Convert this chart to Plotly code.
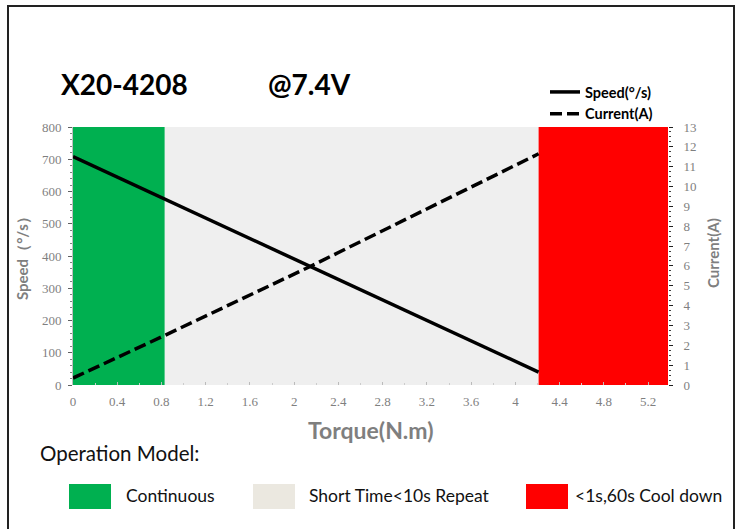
import plotly.graph_objects as go

# ---------------- data ----------------
torque = [0.0, 0.83, 2.14, 4.21]
speed = [708, 576, 367, 40]
current = [0.35, 2.5, 5.96, 11.65]

zone_names = ["Continuous", "Short Time<10s Repeat", "<1s,60s Cool down"]
zone_start = [0.0, 0.83, 4.21]
zone_end = [0.83, 4.21, 5.38]
zone_colors = ["#00b050", "#efefef", "#ff0000"]
legend_box_colors = ["#00b050", "#ebe8e0", "#ff0000"]

x_ticks = [0, 0.4, 0.8, 1.2, 1.6, 2, 2.4, 2.8, 3.2, 3.6, 4, 4.4, 4.8, 5.2]
x_tick_text = ["0", "0.4", "0.8", "1.2", "1.6", "2", "2.4", "2.8", "3.2", "3.6", "4", "4.4", "4.8", "5.2"]

model_name = "X20-4208"
voltage = "@7.4V"

# ---------------- layout geometry ----------------
W, H = 738, 529
L, R, T, B = 73, 70, 127, 144
PW, PH = W - L - R, H - T - B


def px(x):
    return (x - L) / PW


def py(y):
    return (H - B - y) / PH


GRAY = "#7f7f7f"
SANS = "Lato, 'Open Sans', sans-serif"
SERIF = "'Liberation Serif', serif"

fig = go.Figure()

fig.add_trace(go.Scatter(
    x=torque, y=speed, mode="lines", name="<b>Speed(°/s)</b>",
    line=dict(color="#000000", width=3.5), yaxis="y"))
fig.add_trace(go.Scatter(
    x=torque, y=current, mode="lines", name="<b>Current(A)</b>",
    line=dict(color="#000000", width=3.5, dash="12px,5px"), yaxis="y2"))

shapes = []
for s, e, c in zip(zone_start, zone_end, zone_colors):
    shapes.append(dict(type="rect", xref="x", yref="paper", x0=s, x1=e, y0=0, y1=1,
                       fillcolor=c, line=dict(width=0), layer="below"))

# outer frame
shapes.append(dict(type="rect", xref="paper", yref="paper",
                   x0=px(8), x1=px(734), y0=py(545), y1=py(6),
                   line=dict(color="#222222", width=2), fillcolor="rgba(0,0,0,0)"))


def note(text, x, y, size, color, xanchor="center", angle=0):
    return dict(text=text, x=px(x), y=py(y), xref="paper", yref="paper",
                xanchor=xanchor, yanchor="middle", showarrow=False, textangle=angle,
                font=dict(family=SANS, size=size, color=color))


annotations = [
    note("<b>" + model_name + "</b>", 124, 84, 28, "#000000"),
    note("<b>" + voltage + "</b>", 309, 84, 28, "#000000"),
    note("<b>Speed（°/s）</b>", 22, 255, 15, GRAY, angle=-90),
    note("<b>Current(A)</b>", 713, 253, 15, GRAY, angle=-90),
    note("<b>Torque(N.m)</b>", 371, 430, 23, GRAY),
    note("Operation Model:", 38, 453, 20.5, "#111111", xanchor="left"),
]

box_left = [69, 253, 526]
text_left = [124, 307, 573]
for name, c, bl, tl in zip(zone_names, legend_box_colors, box_left, text_left):
    shapes.append(dict(type="rect", xref="paper", yref="paper",
                       x0=px(bl), x1=px(bl + 42), y0=py(509), y1=py(484),
                       fillcolor=c, line=dict(width=0)))
    annotations.append(note(name, tl, 496, 17.5, "#111111", xanchor="left"))

fig.update_layout(
    width=W, height=H,
    margin=dict(l=L, r=R, t=T, b=B, pad=0),
    paper_bgcolor="#ffffff", plot_bgcolor="#ffffff",
    shapes=shapes, annotations=annotations,
    showlegend=True,
    legend=dict(x=px(545), y=py(76), xanchor="left", yanchor="top",
                bgcolor="rgba(0,0,0,0)", font=dict(family=SANS, size=14.5, color="#000000"),
                tracegroupgap=0, itemwidth=30),
    xaxis=dict(range=[0, 5.38], tickvals=x_ticks, ticktext=x_tick_text,
               showgrid=False, zeroline=False, showline=False,
               ticks="inside", ticklen=3, tickcolor="#bbbbbb",
               minor=dict(dtick=0.2, ticks="inside", ticklen=2, tickcolor="#cccccc"),
               tickfont=dict(family=SERIF, size=13, color=GRAY),
               ticklabelstandoff=7, fixedrange=True),
    yaxis=dict(range=[0, 800], dtick=100, showgrid=False, zeroline=False,
               showline=True, linecolor="#bfbfbf", linewidth=1,
               ticks="outside", ticklen=4, tickcolor="#606060",
               minor=dict(dtick=20, ticks="outside", ticklen=2, tickcolor="#808080"),
               tickfont=dict(family=SERIF, size=13, color=GRAY),
               ticklabelstandoff=4),
    yaxis2=dict(range=[0, 13], dtick=1, overlaying="y", side="right",
                showgrid=False, zeroline=False, showline=False,
                ticks="outside", ticklen=4, tickcolor="#202020",
                minor=dict(dtick=0.25, ticks="outside", ticklen=2, tickcolor="#404040"),
                tickfont=dict(family=SERIF, size=13, color=GRAY),
                ticklabelstandoff=8),
)

fig.write_html("out.html", config={"displayModeBar": False},
               post_script="document.body.style.margin='0';document.body.style.overflow='hidden';")
